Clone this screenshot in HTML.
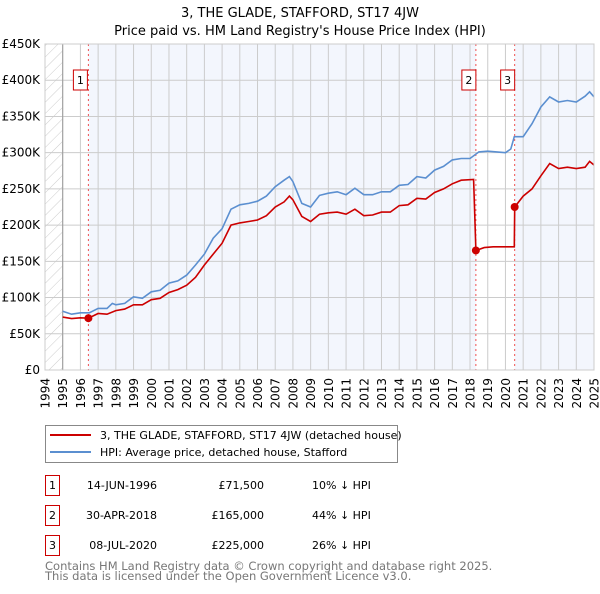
<!DOCTYPE html>
<html><head><meta charset="utf-8"><style>
body{margin:0;background:#fff;font-family:"DejaVu Sans","Liberation Sans",sans-serif;}
svg text{font-family:"DejaVu Sans","Liberation Sans",sans-serif;}
</style></head><body>
<svg id="c" width="600" height="590" viewBox="0 0 600 590" xmlns="http://www.w3.org/2000/svg">
<defs><pattern id="h" width="8" height="8" patternUnits="userSpaceOnUse" patternTransform="rotate(45)"><line x1="0" y1="0" x2="0" y2="8" stroke="#ccc" stroke-width="1"/></pattern></defs>
<text x="300" y="17" text-anchor="middle" font-size="13">3, THE GLADE, STAFFORD, ST17 4JW</text>
<text x="300" y="35" text-anchor="middle" font-size="13">Price paid vs. HM Land Registry's House Price Index (HPI)</text>
<g id="plot"></g>
<g>
<rect x="45.5" y="425.5" width="352" height="37" fill="#fff" stroke="#888"/>
<line x1="50" y1="435" x2="91" y2="435" stroke="#cc0000" stroke-width="2"/>
<text x="100" y="439" font-size="11">3, THE GLADE, STAFFORD, ST17 4JW (detached house)</text>
<line x1="50" y1="452" x2="91" y2="452" stroke="#5b8fd0" stroke-width="2"/>
<text x="100" y="456" font-size="11">HPI: Average price, detached house, Stafford</text>
</g>
<g id="table" font-size="11"></g>
<text x="45" y="570" font-size="11.5" fill="#777">Contains HM Land Registry data © Crown copyright and database right 2025.</text>
<text x="45" y="580" font-size="11.5" fill="#777">This data is licensed under the Open Government Licence v3.0.</text>
</svg>
<script>
const hpiYears=[1995,1995.5,1996,1996.5,1997,1997.5,1997.8,1998,1998.5,1999,1999.5,2000,2000.5,2001,2001.5,2002,2002.5,2003,2003.5,2004,2004.5,2005,2005.5,2006,2006.5,2007,2007.5,2007.8,2008,2008.5,2009,2009.5,2010,2010.5,2011,2011.5,2012,2012.5,2013,2013.5,2014,2014.5,2015,2015.5,2016,2016.5,2017,2017.5,2018,2018.5,2019,2019.5,2020,2020.3,2020.5,2021,2021.5,2022,2022.5,2023,2023.5,2024,2024.5,2024.75,2025];
const hpiValues=[81,77,79,79,85,85,92,90,92,101,99,108,110,120,123,131,145,160,182,195,222,228,230,233,240,253,262,267,260,230,225,241,244,246,242,251,242,242,246,246,255,256,267,265,276,281,290,292,292,301,302,301,300,305,322,322,340,363,377,370,372,370,378,384,377];
const propYears=[1995,1995.5,1996,1996.45,1997,1997.5,1998,1998.5,1999,1999.5,2000,2000.5,2001,2001.5,2002,2002.5,2003,2003.5,2004,2004.5,2005,2005.5,2006,2006.5,2007,2007.5,2007.8,2008,2008.5,2009,2009.5,2010,2010.5,2011,2011.5,2012,2012.5,2013,2013.5,2014,2014.5,2015,2015.5,2016,2016.5,2017,2017.5,2018.2,2018.33,2018.8,2019.3,2019.8,2020.5,2020.52,2021,2021.5,2022,2022.5,2023,2023.5,2024,2024.5,2024.75,2025];
const propValues=[73,71,72,71.5,78,77,82,84,90,90,97,99,107,111,117,128,145,160,175,200,203,205,207,213,225,232,240,235,212,205,215,217,218,215,222,213,214,218,218,227,228,237,236,245,250,257,262,263,165,169,170,170,170,225,240,250,268,285,278,280,278,280,288,283];
const saleYears=[1996.45,2018.33,2020.52];
const saleValues=[71.5,165,225];
const saleLabels=["1","2","3"];
const saleDates=["14-JUN-1996","30-APR-2018","08-JUL-2020"];
const salePrices=["£71,500","£165,000","£225,000"];
const saleDiffs=["10% ↓ HPI","44% ↓ HPI","26% ↓ HPI"];
const yTicks=[0,50,100,150,200,250,300,350,400,450];
const yTickLabels=["£0","£50K","£100K","£150K","£200K","£250K","£300K","£350K","£400K","£450K"];
const xTicks=[1994,1995,1996,1997,1998,1999,2000,2001,2002,2003,2004,2005,2006,2007,2008,2009,2010,2011,2012,2013,2014,2015,2016,2017,2018,2019,2020,2021,2022,2023,2024,2025];

const X0=45,X1=594,Y0=370,Y1=44;
const xs=y=>X0+(y-1994)/31*(X1-X0);
const ys=v=>Y0-v/450*(Y0-Y1);
const NS="http://www.w3.org/2000/svg";
const plot=document.getElementById('plot');
function mk(tag,attrs,parent){const e=document.createElementNS(NS,tag);for(const k in attrs)e.setAttribute(k,attrs[k]);(parent||plot).appendChild(e);return e;}

let e;
e=mk('rect',{x:xs(saleYears[0]),y:Y1,width:xs(saleYears[1])-xs(saleYears[0]),height:Y0-Y1,fill:'#f3f6fd'});


e=mk('rect',{x:xs(saleYears[2]),y:Y1,width:X1-xs(saleYears[2]),height:Y0-Y1,fill:'#f3f6fd'});


e=mk('rect',{x:X0,y:Y1,width:xs(1995)-X0,height:Y0-Y1,fill:'url(#h)'});


yTicks.forEach((t,i)=>{
 e=mk('line',{x1:X0,x2:X1,y1:ys(t),y2:ys(t),stroke:'#ccc','stroke-width':1});
 
 
 e=mk('text',{x:X0-5,y:ys(t)+4,'text-anchor':'end','font-size':12});
 e.textContent=yTickLabels[i];
 
 
});
xTicks.forEach(t=>{
 e=mk('line',{x1:xs(t),x2:xs(t),y1:Y1,y2:Y0,stroke:'#ccc','stroke-width':1});
 
 
 const tx=xs(t)+4.5, ty=378;
 e=mk('text',{x:tx,y:ty,'text-anchor':'end','font-size':12,transform:`rotate(-90 ${tx} ${ty})`});
 e.textContent=t;
 
 
});
e=mk('line',{x1:xs(1995),x2:xs(1995),y1:Y1,y2:Y0,stroke:'#999'});


saleYears.forEach((s,i)=>{
 e=mk('line',{x1:xs(s),x2:xs(s),y1:Y1,y2:Y0,stroke:'#f05050','stroke-dasharray':'2,3','stroke-width':1});
 
 
});
const pts=(a,b)=>a.map((y,i)=>xs(y).toFixed(1)+','+ys(b[i]).toFixed(1)).join(' ');
e=mk('polyline',{points:pts(hpiYears,hpiValues),fill:'none',stroke:'#5b8fd0','stroke-width':1.6});


e=mk('polyline',{points:pts(propYears,propValues),fill:'none',stroke:'#cc0000','stroke-width':1.6});


saleYears.forEach((s,i)=>{
 e=mk('circle',{cx:xs(s),cy:ys(saleValues[i]),r:4,fill:'#cc0000'});
 
 
 const cx=xs(s)-(i==0?8:7);
 e=mk('rect',{x:cx-7,y:70,width:14,height:20,fill:'#fff',stroke:'#cc0000'});
 
 
 e=mk('text',{x:cx,y:84,'text-anchor':'middle','font-size':11});
 e.textContent=saleLabels[i];
 
 
});
e=mk('rect',{x:X0,y:Y1,width:X1-X0,height:Y0-Y1,fill:'none',stroke:'#ccc'});


const tb=document.getElementById('table');
saleLabels.forEach((l,i)=>{
 const y=475+i*30;
 e=mk('rect',{x:45.5,y:y+0.5,width:14,height:20,fill:'#fff',stroke:'#cc0000'},tb);
 
 
 e=mk('text',{x:52.5,y:y+14,'text-anchor':'middle'},tb);e.textContent=l;
 
 
 e=mk('text',{x:157,y:y+14,'text-anchor':'end'},tb);e.textContent=saleDates[i];
 
 
 e=mk('text',{x:264,y:y+14,'text-anchor':'end'},tb);e.textContent=salePrices[i];
 
 
 e=mk('text',{x:312,y:y+14},tb);e.textContent=saleDiffs[i];
 
 
});
</script>
</body></html>
